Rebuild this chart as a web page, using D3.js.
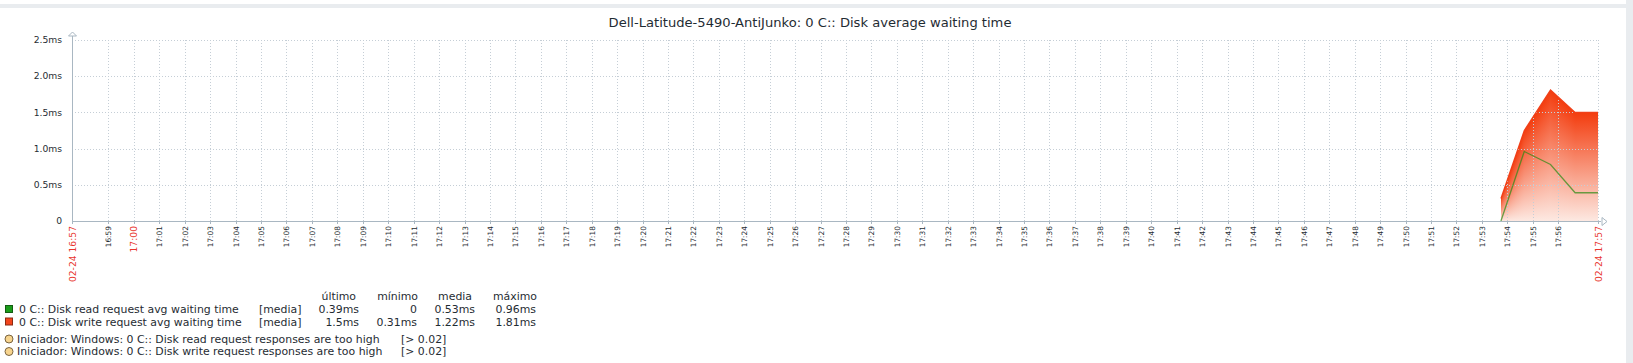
<!DOCTYPE html>
<html lang="es">
<head>
<meta charset="UTF-8">
<title>Disk average waiting time</title>
<script src="https://d3js.org/d3.v7.min.js"></script>
<style>
    body { margin: 0; background: #fff; font-family: "DejaVu Sans", sans-serif; }
    svg { display: block; }
    .grid line { stroke: #c5ced6; stroke-width: 1; stroke-dasharray: 1,2; shape-rendering: crispEdges; }
    .ylab { font-size: 9.2px; fill: #1f2c33; }
    .xlab { font-size: 7.4px; fill: #1f2c33; }
    .xlab.big { font-size: 9.2px; }
    .red { fill: #e8352e; }
    .leg { font-size: 10.9px; fill: #1f2c33; }
</style>
</head>
<body>
<div id="chart"></div>
<script>
// --- data ---
const title = "Dell-Latitude-5490-AntiJunko: 0 C:: Disk average waiting time";
const periodStart = "2024-02-24 16:57:34";
const periodEnd = "2024-02-24 17:57:34";
const sampleTimes = ["17:53:45", "17:54:40", "17:55:42", "17:56:40", "17:57:34"];
const readValues = [0, 0.96, 0.78, 0.39, 0.39];   // ms
const writeValues = [0.31, 1.25, 1.81, 1.5, 1.5]; // ms
const yTicks = [0, 0.5, 1.0, 1.5, 2.0, 2.5];

const legendHeader = ["último", "mínimo", "media", "máximo"];
const legendItems = [
    { name: "0 C:: Disk read request avg waiting time", func: "[media]", stats: ["0.39ms", "0", "0.53ms", "0.96ms"], color: "#1a9c1a", stroke: "#135c13" },
    { name: "0 C:: Disk write request avg waiting time", func: "[media]", stats: ["1.5ms", "0.31ms", "1.22ms", "1.81ms"], color: "#f2441c", stroke: "#8a2a12" }
];
const triggers = [
    { name: "Iniciador: Windows: 0 C:: Disk read request responses are too high", cond: "[> 0.02]" },
    { name: "Iniciador: Windows: 0 C:: Disk write request responses are too high", cond: "[> 0.02]" }
];

const W = 1633, H = 363;
const plot = { left: 72, right: 1598, top: 40, bottom: 221 };

const parse = d3.timeParse("%Y-%m-%d %H:%M:%S");
const t0 = parse(periodStart), t1 = parse(periodEnd);
const times = sampleTimes.map(s => parse("2024-02-24 " + s));

const x = d3.scaleTime().domain([t0, t1]).range([plot.left, plot.right]);
const y = d3.scaleLinear().domain([0, 2.5]).range([plot.bottom, plot.top]);

const svg = d3.select("#chart").append("svg").attr("width", W).attr("height", H);

// page frame
svg.append("rect").attr("x", 0).attr("y", 4).attr("width", W).attr("height", 4).attr("fill", "#e9ecef");
svg.append("rect").attr("x", 1626).attr("y", 0).attr("width", W - 1626).attr("height", H).attr("fill", "#e9ecef");

svg.append("text").attr("x", 810).attr("y", 27).attr("text-anchor", "middle")
    .attr("font-size", "13.1px").attr("fill", "#1f2c33").text(title);

// write series: per-column gradient from value down to zero
const defs = svg.append("defs");
const grad = defs.append("linearGradient").attr("id", "wgrad")
    .attr("x1", 0).attr("y1", 0).attr("x2", 0).attr("y2", 1);
grad.append("stop").attr("offset", "0%").attr("stop-color", "#f33c0e");
grad.append("stop").attr("offset", "100%").attr("stop-color", "#fde9e2");

const wpts = times.map((t, i) => [x(t), y(writeValues[i])]);
function yAt(px) {
    if (px <= wpts[0][0]) return wpts[0][1];
    for (let i = 0; i < wpts.length - 1; i++) {
        const a = wpts[i], b = wpts[i + 1];
        if (px >= a[0] && px <= b[0]) return a[1] + (b[1] - a[1]) * (px - a[0]) / (b[0] - a[0]);
    }
    return wpts[wpts.length - 1][1];
}
const cols = d3.range(Math.round(wpts[0][0]), Math.round(wpts[wpts.length - 1][0]));
svg.append("g").selectAll("rect").data(cols).enter().append("rect")
    .attr("x", d => d).attr("width", 1.05)
    .attr("y", d => yAt(d + 0.5))
    .attr("height", d => plot.bottom - yAt(d + 0.5))
    .attr("fill", "url(#wgrad)");

// grid
const minuteTicks = d3.timeMinute.every(1).range(t0, t1)
    .filter(t => x(t) - plot.left > 20 && plot.right - x(t) > 20);
const grid = svg.append("g").attr("class", "grid");
grid.selectAll(".v").data(minuteTicks).enter().append("line")
    .attr("x1", d => Math.round(x(d)) + 0.5).attr("x2", d => Math.round(x(d)) + 0.5)
    .attr("y1", plot.top).attr("y2", plot.bottom);
grid.append("line").attr("x1", plot.right + 0.5).attr("x2", plot.right + 0.5)
    .attr("y1", plot.top).attr("y2", plot.bottom);
grid.selectAll(".h").data(yTicks.slice(1)).enter().append("line")
    .attr("x1", plot.left).attr("x2", plot.right)
    .attr("y1", d => Math.round(y(d)) + 0.5).attr("y2", d => Math.round(y(d)) + 0.5);

// lines
svg.append("path").datum(times.map((t, i) => [t, writeValues[i]]))
    .attr("fill", "none").attr("stroke", "#f0401a").attr("stroke-width", 1.2)
    .attr("d", d3.line().x(d => x(d[0])).y(d => y(d[1])));
svg.append("path").datum(times.map((t, i) => [t, readValues[i]]))
    .attr("fill", "none").attr("stroke", "#2b8a14").attr("stroke-opacity", 0.7).attr("stroke-width", 1.3)
    .attr("d", d3.line().x(d => x(d[0])).y(d => y(d[1])));

// axes
const axisColor = "#a9b7c2";
svg.append("line").attr("x1", plot.left + 0.5).attr("x2", plot.left + 0.5)
    .attr("y1", 36).attr("y2", plot.bottom).attr("stroke", axisColor);
svg.append("line").attr("x1", plot.left).attr("x2", plot.right + 3)
    .attr("y1", plot.bottom + 0.5).attr("y2", plot.bottom + 0.5).attr("stroke", axisColor);
svg.append("path").attr("d", `M${plot.left + 0.5},32 L${plot.left + 4.5},36 L${plot.left - 3.5},36 Z`)
    .attr("fill", "#fff").attr("stroke", axisColor);
svg.append("path").attr("d", `M${plot.right + 9},${plot.bottom + 0.5} L${plot.right + 4},${plot.bottom - 3.5} L${plot.right + 4},${plot.bottom + 4.5} Z`)
    .attr("fill", "#fff").attr("stroke", axisColor);
svg.append("g").selectAll("line").data(minuteTicks.concat([t0, t1])).enter().append("line")
    .attr("x1", d => Math.round(x(d)) + 0.5).attr("x2", d => Math.round(x(d)) + 0.5)
    .attr("y1", plot.bottom).attr("y2", plot.bottom + 3).attr("stroke", axisColor);

// y labels
svg.append("g").selectAll("text").data(yTicks).enter().append("text")
    .attr("class", "ylab").attr("x", 62).attr("y", d => y(d)).attr("dy", "0.35em")
    .attr("text-anchor", "end")
    .text(d => d === 0 ? "0" : d.toFixed(1) + "ms");

// x labels
const fmtMin = d3.timeFormat("%H:%M"), fmtEdge = d3.timeFormat("%m-%d %H:%M");
const xl = svg.append("g");
xl.selectAll("text").data(minuteTicks).enter().append("text")
    .attr("class", d => d.getMinutes() === 0 ? "xlab big red" : "xlab")
    .attr("transform", d => `translate(${Math.round(x(d))},226) rotate(-90)`)
    .attr("dy", "0.35em").attr("text-anchor", "end").text(fmtMin);
xl.selectAll(".edge").data([t0, t1]).enter().append("text")
    .attr("class", "xlab big red")
    .attr("transform", d => `translate(${Math.round(x(d)) + 0.5},226) rotate(-90)`)
    .attr("dy", "0.35em").attr("text-anchor", "end").text(fmtEdge);

// legend
const colRight = [359, 417, 475, 536];
const headRight = [356, 418, 472, 537];
const lg = svg.append("g");
legendHeader.forEach((h, i) => {
    lg.append("text").attr("class", "leg").attr("x", headRight[i]).attr("y", 300)
        .attr("text-anchor", "end").text(h);
});
legendItems.forEach((it, r) => {
    const by = 313 + r * 12.5;
    lg.append("rect").attr("x", 5.5).attr("y", by - 7.5).attr("width", 7).attr("height", 7)
        .attr("fill", it.color).attr("stroke", it.stroke);
    lg.append("text").attr("class", "leg").attr("x", 19).attr("y", by).text(it.name);
    lg.append("text").attr("class", "leg").attr("x", 259).attr("y", by).text(it.func);
    it.stats.forEach((s, i) => {
        lg.append("text").attr("class", "leg").attr("x", colRight[i]).attr("y", by)
            .attr("text-anchor", "end").text(s);
    });
});
triggers.forEach((tr, r) => {
    const by = 342.5 + r * 12.5;
    lg.append("circle").attr("cx", 9).attr("cy", by - 3.5).attr("r", 4)
        .attr("fill", "#f7d48e").attr("stroke", "#7a6440");
    lg.append("text").attr("class", "leg").attr("x", 17).attr("y", by).text(tr.name);
    lg.append("text").attr("class", "leg").attr("x", 401).attr("y", by).text(tr.cond);
});
</script>
</body>
</html>
